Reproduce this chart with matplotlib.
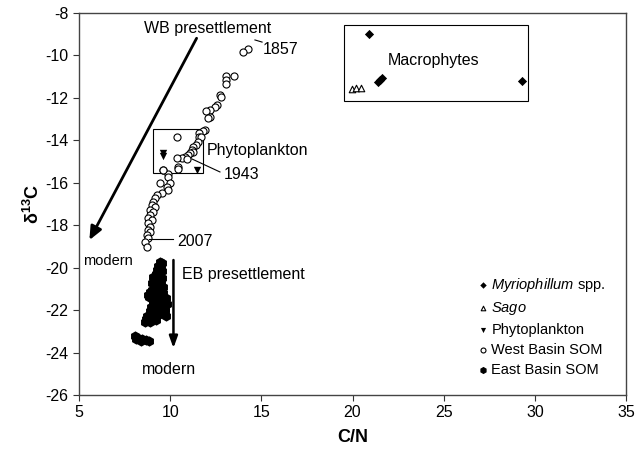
import numpy as np
import matplotlib
matplotlib.use("Agg")
import matplotlib.pyplot as plt
from matplotlib.patches import Rectangle

plt.rcParams["font.family"] = ["Liberation Sans", "DejaVu Sans"]
plt.rcParams["mathtext.fontset"] = "custom"
plt.rcParams["mathtext.rm"] = "Liberation Sans"
plt.rcParams["mathtext.it"] = "Liberation Sans:italic"
plt.rcParams["mathtext.bf"] = "Liberation Sans:bold"
plt.rcParams["axes.unicode_minus"] = False

# Macrophytes
myrio_cn = [20.9, 21.5, 21.6, 21.4, 29.3]
myrio_d13c = [-8.99, -11.15, -11.05, -11.24, -11.2]
sago_cn = [19.98, 20.2, 20.47]
sago_d13c = [-11.57, -11.52, -11.52]

# Phytoplankton
phyto_cn = [9.6, 9.6, 11.47]
phyto_d13c = [-14.58, -14.72, -15.42]

# West Basin sediment organic matter (1857 -> 2007)
wb_cn = [14.27, 14.0, 13.5, 13.06, 13.06, 13.06, 12.73, 12.78, 12.57, 12.46,
         12.19, 11.97, 12.19, 12.08, 11.9, 11.8, 11.6, 11.6, 11.7, 10.4,
         11.5, 11.4, 11.25, 11.2, 11.25, 11.1, 11.0, 10.8, 10.65, 10.4,
         10.9, 10.43, 9.6, 9.9,
         9.61, 10.43, 9.88, 9.44, 9.99, 9.83, 9.88, 9.55, 9.28, 9.17,
         9.06, 9.0, 9.17, 8.89, 9.06, 8.89, 8.78, 9.0, 8.78, 8.89,
         8.78, 8.89, 8.73, 8.78, 8.62, 8.73]
wb_d13c = [-9.69, -9.83, -10.96, -10.96, -11.15, -11.34, -11.85, -11.95, -12.32, -12.42,
           -12.56, -12.6, -12.89, -12.93, -13.5, -13.55, -13.64, -13.83, -13.83, -13.83,
           -14.06, -14.2, -14.3, -14.44, -14.53, -14.58, -14.67, -14.77, -14.81, -14.81,
           -14.9, -15.28, -15.38, -15.6,
           -15.4, -15.35, -15.73, -16.01, -16.01, -16.2, -16.34, -16.48, -16.58, -16.72,
           -16.91, -17.05, -17.14, -17.28, -17.38, -17.52, -17.66, -17.76, -17.9, -18.08,
           -18.23, -18.32, -18.46, -18.6, -18.79, -19.03]

# East Basin sediment organic matter
eb_cn = [9.45, 9.55, 9.35, 9.5, 9.3, 9.55, 9.2, 9.45, 9.4,
         9.05, 9.3, 9.55, 9.0, 9.25, 9.5, 9.1, 9.4, 9.6, 9.2,
         8.9, 9.15, 9.4, 9.6, 8.85, 9.1, 9.35, 9.75, 9.05, 9.3, 9.55, 9.85, 8.95, 9.25,
         8.8, 9.5, 9.0, 9.7,
         8.9, 9.2, 9.7, 8.75, 9.05, 9.35, 9.75, 8.6, 8.9, 9.2, 9.5, 8.7,
         8.05, 8.25, 8.45, 8.65, 8.85, 8.15, 8.4]
eb_d13c = [-19.75, -19.8, -19.9, -20.0, -20.1, -20.15, -20.3, -20.3, -20.2,
           -20.45, -20.5, -20.5, -20.7, -20.75, -20.7, -20.95, -20.95, -20.9, -20.6,
           -21.15, -21.2, -21.15, -21.2, -21.4, -21.45, -21.4, -21.45, -21.65, -21.65, -21.6, -21.7, -21.85, -21.9,
           -21.3, -21.8, -21.05, -21.95,
           -22.05, -22.1, -22.05, -22.3, -22.3, -22.25, -22.3, -22.55, -22.55, -22.45, -22.15, -22.4,
           -23.2, -23.3, -23.35, -23.4, -23.45, -23.35, -23.45]

xticks = [5, 10, 15, 20, 25, 30, 35]
yticks = [-8, -10, -12, -14, -16, -18, -20, -22, -24, -26]

fig = plt.figure(figsize=(6.38, 4.58), dpi=100)
ax = fig.add_axes([79 / 638, 1 - 395 / 458, 547 / 638, 382 / 458])

ax.scatter(myrio_cn, myrio_d13c, marker="D", s=22, c="black", lw=0,
           label="$\\it{Myriophillum}$ spp.", zorder=3)
ax.scatter(sago_cn, sago_d13c, marker="^", s=22, facecolors="white",
           edgecolors="black", lw=0.8, label="$\\it{Sago}$", zorder=3)
ax.scatter(phyto_cn, phyto_d13c, marker="v", s=28, c="black", lw=0,
           label="Phytoplankton", zorder=3)
ax.scatter(wb_cn, wb_d13c, marker="o", s=26, facecolors="white",
           edgecolors="black", lw=0.8, label="West Basin SOM", zorder=2)
ax.scatter(eb_cn, eb_d13c, marker="h", s=55, c="black", lw=0,
           label="East Basin SOM", zorder=2)

# boxes around the end-member groups
ax.add_patch(Rectangle((19.54, -12.15), 10.06, 3.58, fill=False, lw=0.8, ec="black"))
ax.add_patch(Rectangle((9.06, -15.54), 2.74, 2.07, fill=False, lw=0.8, ec="black"))
ax.text(24.47, -10.26, "Macrophytes", fontsize=11.5, ha="center", va="center")
ax.text(12.02, -14.5, "Phytoplankton", fontsize=11.5, ha="left", va="center")

# year labels
ax.plot([14.65, 15.04], [-9.27, -9.37], color="black", lw=0.8)
ax.text(15.09, -9.7, "1857", fontsize=11.5, ha="left", va="center")
ax.plot([11.2, 12.73], [-14.88, -15.49], color="black", lw=0.8)
ax.text(12.95, -15.63, "1943", fontsize=11.5, ha="left", va="center")
ax.plot([8.84, 10.16], [-18.65, -18.65], color="black", lw=0.8)
ax.text(10.38, -18.79, "2007", fontsize=11.5, ha="left", va="center")

# trend arrows
ax.annotate("", xy=(5.57, -18.7), xytext=(11.45, -9.19),
            arrowprops=dict(arrowstyle="-|>,head_length=0.8,head_width=0.35",
                            lw=2, color="black", shrinkA=0, shrinkB=0))
ax.text(12.05, -8.73, "WB presettlement", fontsize=11.5, ha="center", va="center")
ax.text(5.2, -19.68, "modern", fontsize=10.5, ha="left", va="center")

ax.annotate("", xy=(10.18, -23.79), xytext=(10.18, -19.64),
            arrowprops=dict(arrowstyle="-|>,head_length=0.7,head_width=0.25",
                            lw=1.8, color="black", shrinkA=0, shrinkB=0))
ax.text(10.65, -20.3, "EB presettlement", fontsize=11.5, ha="left", va="center")
ax.text(9.96, -24.78, "modern", fontsize=11.5, ha="center", va="center")

ax.set_xlim(5, 35)
ax.set_ylim(-26, -8)
ax.set_xticks(xticks)
ax.set_yticks(yticks)
ax.tick_params(direction="out", length=4, width=0.8, labelsize=11.5, color="#333333")
for sp in ax.spines.values():
    sp.set_linewidth(1)
    sp.set_color("#444444")

ax.set_xlabel("C/N", fontsize=13, fontweight="bold", labelpad=6)
ax.set_ylabel("δ$^{\\mathbf{13}}$C", fontsize=13, fontweight="bold", labelpad=2)

leg = ax.legend(loc="upper left", bbox_to_anchor=(0.731, 0.311), frameon=False,
                fontsize=10.5, handlelength=0.6, handletextpad=0.25,
                labelspacing=0.4, borderpad=0, borderaxespad=0,
                scatterpoints=1, markerscale=0.7)

fig.savefig("out.png", dpi=100)
